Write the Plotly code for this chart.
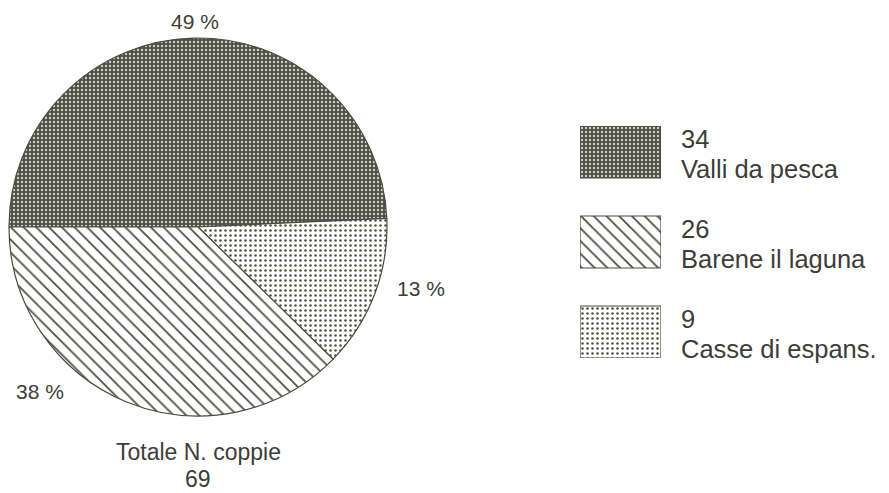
import plotly.graph_objects as go

categories = ["Valli da pesca", "Casse di espans.", "Barene il laguna"]
values = [34, 9, 26]
total_label = "Totale N. coppie"
legend_order = ["Valli da pesca", "Barene il laguna", "Casse di espans."]

INK = "#3d3d38"
DARK = "#4e5046"
total = sum(values)
pct = {c: f"{round(v / total * 100)} %" for c, v in zip(categories, values)}
val = dict(zip(categories, values))

patterns = {
    "Valli da pesca": dict(shape=".", bgcolor=DARK, fgcolor="#cfcfc4", size=4, solidity=0.28),
    "Barene il laguna": dict(shape="\\", bgcolor="white", fgcolor=DARK, size=9, solidity=0.2),
    "Casse di espans.": dict(shape=".", bgcolor="white", fgcolor=DARK, size=5, solidity=0.2),
}

# the page body has an 8px margin; map reference pixels onto the figure
OFF = 8
W, H = 889 - OFF, 493 - OFF


def fx(px):
    return (px - OFF) / W


def fy(py):
    return 1 - (py - OFF) / H


def pat(order):
    return dict(
        shape=[patterns[c]["shape"] for c in order],
        bgcolor=[patterns[c]["bgcolor"] for c in order],
        fgcolor=[patterns[c]["fgcolor"] for c in order],
        size=[patterns[c]["size"] for c in order],
        solidity=[patterns[c]["solidity"] for c in order],
        fillmode="replace",
    )


fig = go.Figure()

fig.add_trace(go.Pie(
    labels=categories, values=values, sort=False, direction="clockwise", rotation=-90,
    textinfo="none", hoverinfo="label+value+percent", showlegend=False,
    marker=dict(colors=["white"] * 3, line=dict(color="#4a4a42", width=1.2), pattern=pat(categories)),
    domain=dict(x=[fx(9), fx(387)], y=[fy(416), fy(38)]),
))

# legend swatches as bars on a hidden axis
box_h = 52
bases = [180, 90, 0]
fig.add_trace(go.Bar(
    x=[0.5] * 3, y=[box_h] * 3, base=bases, width=1, xaxis="x2", yaxis="y2",
    showlegend=False, hoverinfo="skip",
    marker=dict(color="white", line=dict(color="#4a4a42", width=1.2), pattern=pat(legend_order)),
))

FAM = "Liberation Sans, Arial, sans-serif"
ann = []
font_pct = dict(family=FAM, size=21, color=INK)
ann.append(dict(x=fx(195), y=fy(21), text=pct["Valli da pesca"], font=font_pct))
ann.append(dict(x=fx(421), y=fy(288), text=pct["Casse di espans."], font=font_pct))
ann.append(dict(x=fx(40), y=fy(391), text=pct["Barene il laguna"], font=font_pct))
font_tot = dict(family=FAM, size=23, color=INK)
ann.append(dict(x=fx(198), y=fy(452), text=total_label, font=font_tot))
ann.append(dict(x=fx(198), y=fy(479), text=str(total), font=font_tot))

font_leg = dict(family=FAM, size=25.5, color=INK)
for i, c in enumerate(legend_order):
    top = 126 + 90 * i
    ann.append(dict(x=fx(679), y=fy(top + 13), text=str(val[c]), font=font_leg, xanchor="left"))
    ann.append(dict(x=fx(679), y=fy(top + 43), text=c, font=font_leg, xanchor="left"))

for a in ann:
    a.update(xref="paper", yref="paper", showarrow=False)
    a.setdefault("xanchor", "center")
    a["yanchor"] = "middle"

fig.update_layout(
    width=W, height=H, margin=dict(l=0, r=0, t=0, b=0),
    paper_bgcolor="white", plot_bgcolor="white",
    annotations=ann,
    xaxis=dict(visible=False),
    yaxis=dict(visible=False),
    xaxis2=dict(domain=[fx(580), fx(661)], range=[0, 1], visible=False, fixedrange=True, anchor="y2"),
    yaxis2=dict(domain=[fy(358), fy(126)], range=[0, 232], visible=False, fixedrange=True, anchor="x2"),
    showlegend=False,
)

fig.write_html("out.html")
